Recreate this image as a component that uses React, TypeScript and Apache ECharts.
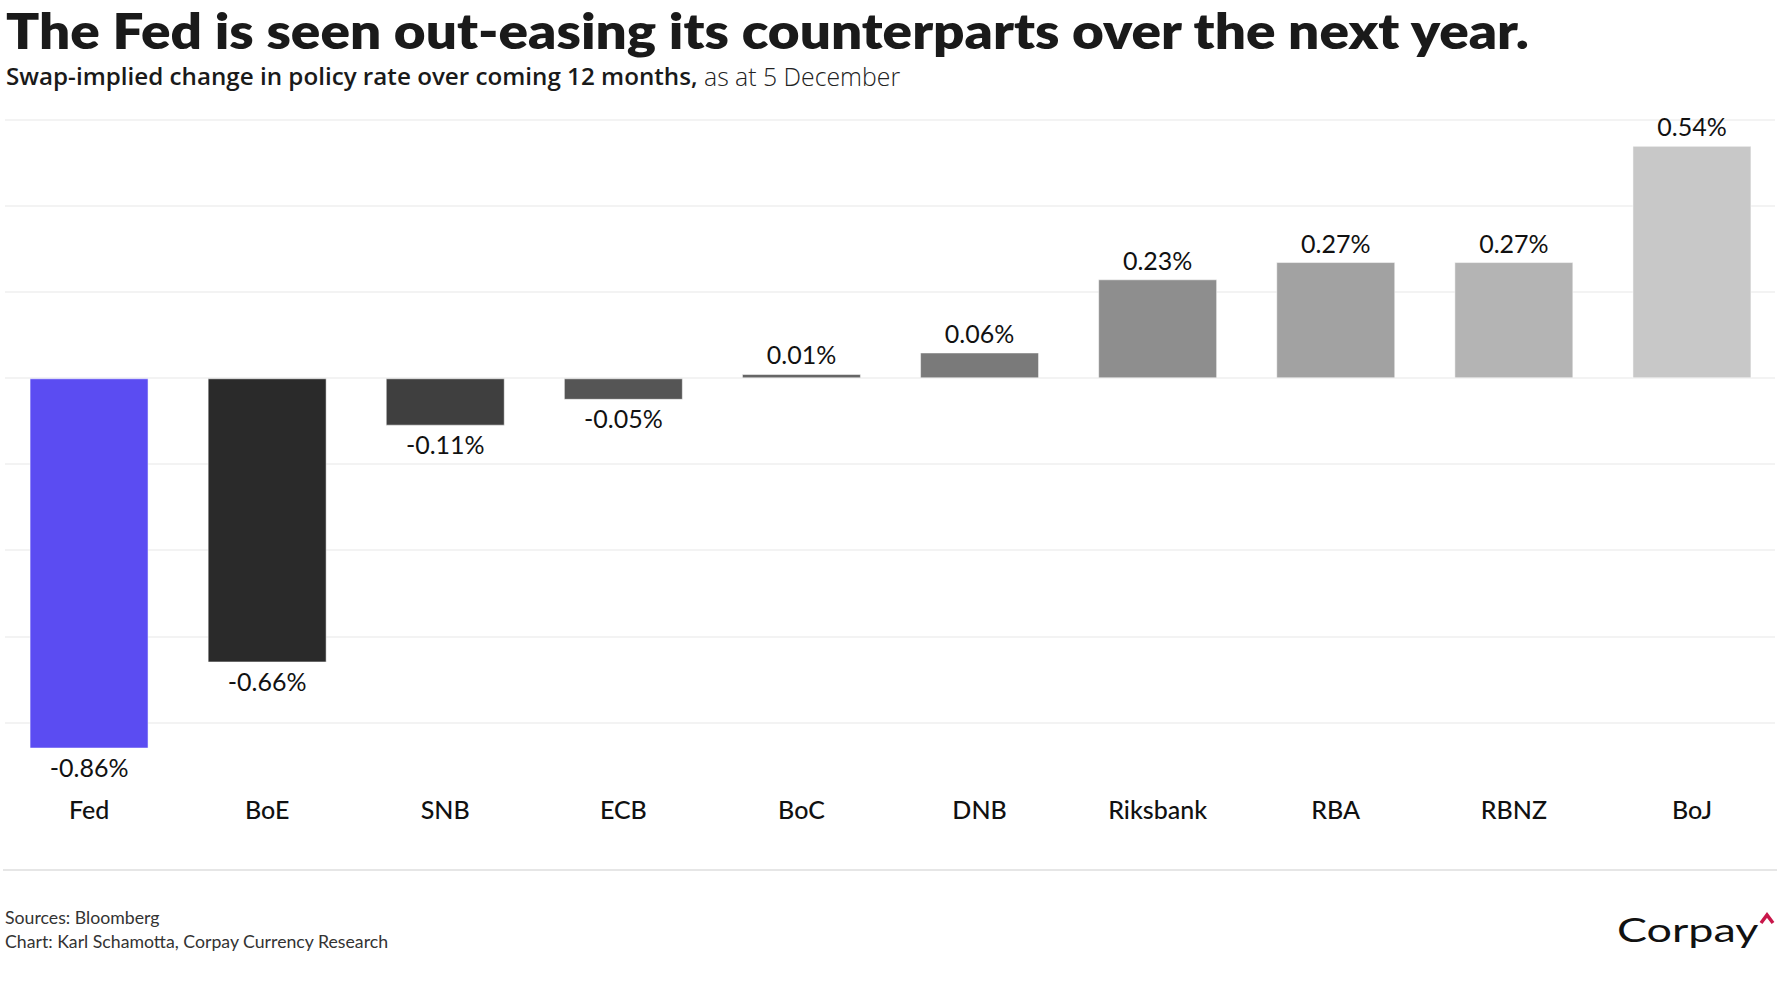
import React, { useEffect, useRef } from "react";
import * as echarts from "echarts";

const categories = ["Fed", "BoE", "SNB", "ECB", "BoC", "DNB", "Riksbank", "RBA", "RBNZ", "BoJ"];
const values = [-0.86, -0.66, -0.11, -0.05, 0.01, 0.06, 0.23, 0.27, 0.27, 0.54];
const barColors = ["#5b4cf2", "#2a2a2a", "#3f3f3f", "#555555", "#666666", "#7a7a7a", "#8e8e8e", "#a2a2a2", "#b4b4b4", "#c8c8c8"];
const gridMin = -0.8;
const gridMax = 0.6;
const gridStep = 0.2;
const barAxisMin = -1.0;

const titleText = "The Fed is seen out-easing its counterparts over the next year.";
const subtitleBold = "Swap-implied change in policy rate over coming 12 months,";
const subtitleLight = " as at 5 December";
const sourceText = "Sources: Bloomberg";
const creditText = "Chart: Karl Schamotta, Corpay Currency Research";
const logoText = "Corpay";

const FONT = "Lato, 'Noto Sans', sans-serif";
const WIDE = "'Open Sans', Lato, sans-serif";

export default function App() {
  const ref = useRef<HTMLDivElement>(null);
  useEffect(() => {
    document.body.style.margin = "0";
    if (!ref.current) return;
    const chart = echarts.init(ref.current, undefined, { renderer: "svg" });
    const option: any = {
      animation: false,
      backgroundColor: "#ffffff",
      textStyle: { fontFamily: FONT },
      grid: [
        { left: 5, width: 1770, top: 120, height: 602.3, containLabel: false },
        { left: -1, width: 1782, top: 120, height: 688.8, containLabel: false },
      ],
      xAxis: [
        { type: "category", gridIndex: 0, data: categories, show: false },
        {
          type: "category",
          gridIndex: 1,
          data: categories,
          axisLine: { show: false },
          axisTick: { show: false },
          splitLine: { show: false },
          axisLabel: {
            margin: -12,
            fontSize: 25,
            fontWeight: 500,
            color: "#111111",
            fontFamily: FONT,
          },
        },
      ],
      yAxis: [
        {
          type: "value",
          gridIndex: 0,
          min: gridMin,
          max: gridMax,
          interval: gridStep,
          axisLine: { show: false },
          axisTick: { show: false },
          axisLabel: { show: false },
          splitLine: { show: true, lineStyle: { color: "#efefef", width: 1.5 } },
        },
        {
          type: "value",
          gridIndex: 1,
          min: barAxisMin,
          max: gridMax,
          show: false,
          splitLine: { show: false },
        },
      ],
      series: [
        {
          type: "bar",
          xAxisIndex: 1,
          yAxisIndex: 1,
          barWidth: "66.8%",
          data: values.map((v, i) => ({
            value: v,
            itemStyle: { color: barColors[i], borderColor: "rgba(255,255,255,0.5)", borderWidth: 1 },
            label: { position: v >= 0 ? "top" : "bottom", distance: v >= 0 ? 7 : 6 },
          })),
          label: {
            show: true,
            distance: 7,
            fontSize: 25,
            fontFamily: FONT,
            color: "#111111",
            formatter: (p: any) => p.value.toFixed(2) + "%",
          },
        },
      ],
      graphic: [
        {
          type: "text",
          x: 6,
          y: 4,
          scaleX: 1.097,
          style: {
            text: titleText,
            font: `800 50px ${FONT}`,
            fill: "#1a1a1a",
            align: "left",
            verticalAlign: "top",
          },
        },
        {
          type: "text",
          left: 6,
          top: 63,
          style: {
            text: `{b|${subtitleBold}}{l|${subtitleLight}}`,
            rich: {
              b: { font: `600 24.2px ${WIDE}`, fill: "#1a1a1a" },
              l: { font: `300 24.8px ${WIDE}`, fill: "#222222" },
            },
          },
        },
        {
          type: "line",
          shape: { x1: 3, y1: 870, x2: 1777, y2: 870 },
          style: { stroke: "#e6e6e6", lineWidth: 2 },
        },
        {
          type: "text",
          left: 5,
          top: 908,
          style: { text: sourceText, font: `400 17.7px ${FONT}`, fill: "#333333" },
        },
        {
          type: "text",
          left: 5,
          top: 932,
          style: { text: creditText, font: `400 17.7px ${FONT}`, fill: "#333333" },
        },
        {
          type: "text",
          x: 1617,
          y: 929,
          scaleX: 1.36,
          style: { text: logoText, font: `400 33px ${FONT}`, fill: "#111111", verticalAlign: "middle", align: "left" },
        },
        {
          type: "polyline",
          shape: { points: [[1761, 923], [1767, 915], [1773, 923]] },
          style: { stroke: "#c8174a", lineWidth: 3.5, fill: "none" },
        },
      ],
    };
    chart.setOption(option);
    return () => chart.dispose();
  }, []);
  return <div ref={ref} style={{ width: 1782, height: 1000 }} />;
}
